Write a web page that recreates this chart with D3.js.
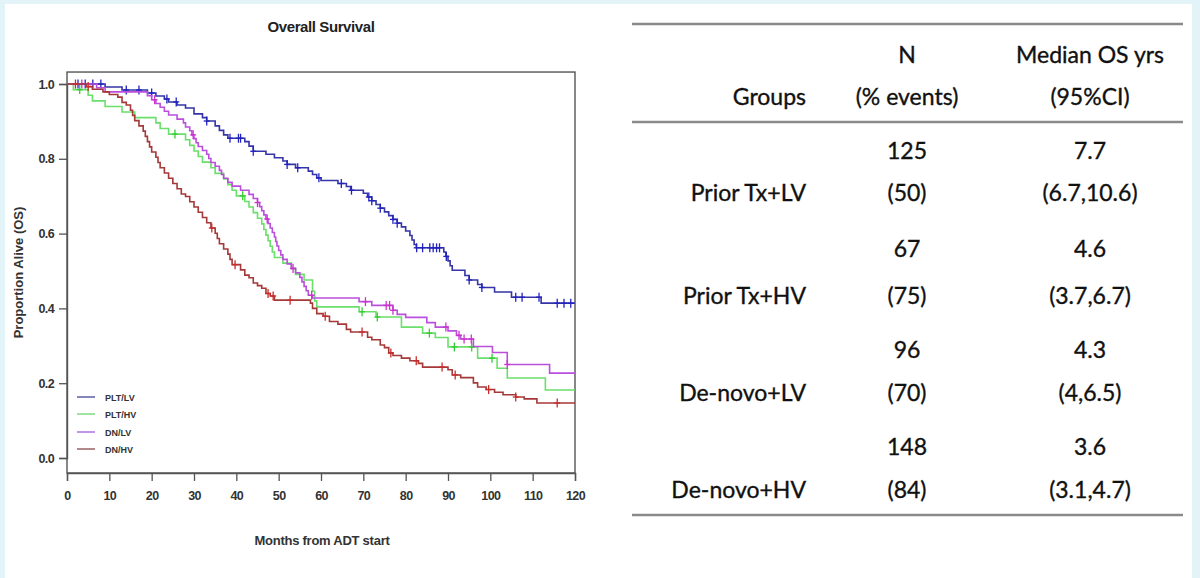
<!DOCTYPE html>
<html><head><meta charset="utf-8">
<script src="https://cdn.jsdelivr.net/npm/d3@7"></script>
<style>body{margin:0;background:#fff;overflow:hidden}</style>
</head><body><svg id="c" width="1200" height="578"></svg>
<script>
// ---------------- DATA ----------------
const chartTitle = "Overall Survival";
const seriesNames = ["PLT/LV", "PLT/HV", "DN/LV", "DN/HV"];
const xTicks = [0,10,20,30,40,50,60,70,80,90,100,110,120];
const yTicks = [0.0,0.2,0.4,0.6,0.8,1.0];

// Kaplan-Meier steps: [month, survival after the step]
const pltLvSteps = [[0,1],[9,0.992],[13,0.984],[19,0.976],[21,0.968],[23,0.960],[24,0.952],[26,0.944],[28,0.936],[30,0.920],[32,0.910],[33,0.901],[35,0.888],[36,0.876],[37,0.864],[38,0.855],[42,0.846],[43,0.834],[44,0.820],[47,0.812],[49,0.803],[51,0.794],[52,0.785],[54,0.776],[57,0.767],[58,0.758],[59,0.749],[60,0.742],[64,0.734],[66,0.726],[67,0.716],[70,0.708],[71,0.698],[72,0.688],[73,0.678],[74,0.668],[75,0.658],[76,0.648],[77,0.638],[78,0.628],[79,0.618],[80,0.607],[81,0.595],[81.5,0.583],[82,0.571],[82.5,0.562],[89,0.551],[89.5,0.539],[90,0.527],[90.5,0.514],[91,0.502],[94,0.488],[95,0.476],[97,0.464],[98,0.456],[101,0.444],[105,0.430],[112,0.414]];
const pltHvSteps = [[0,1],[1.5,0.985],[5,0.970],[6,0.955],[9,0.940],[13,0.925],[16,0.910],[21,0.896],[22,0.881],[24,0.866],[28,0.851],[29,0.836],[30,0.821],[31,0.806],[32,0.791],[34,0.776],[35,0.761],[37,0.746],[38,0.731],[39,0.716],[40,0.701],[42,0.686],[43,0.671],[44,0.656],[45,0.641],[46,0.626],[46.5,0.611],[47,0.596],[47.5,0.581],[48,0.566],[48.5,0.551],[49,0.536],[51,0.521],[53,0.506],[54,0.491],[56,0.476],[58,0.446],[58.5,0.420],[59,0.404],[69,0.391],[73,0.377],[79,0.350],[84,0.334],[87,0.322],[90,0.297],[97,0.267],[101.6,0.240],[104,0.214],[113,0.182]];
const dnLvSteps = [[0,1],[7,0.990],[9,0.979],[19,0.969],[20,0.958],[21,0.948],[22,0.938],[23,0.927],[24,0.917],[26,0.906],[27.5,0.896],[28,0.885],[29,0.875],[29.5,0.864],[30,0.854],[30.5,0.843],[31,0.833],[32,0.822],[33,0.812],[33.5,0.801],[34,0.790],[35,0.780],[36,0.769],[36.5,0.758],[37,0.748],[38,0.737],[39,0.727],[41,0.716],[43,0.705],[44,0.694],[45,0.683],[45.5,0.672],[46,0.661],[46.5,0.650],[47,0.639],[47.5,0.627],[48,0.615],[48.5,0.603],[49,0.591],[49.3,0.579],[49.6,0.567],[50,0.555],[50.5,0.543],[51,0.531],[52,0.519],[53,0.507],[54,0.495],[55,0.483],[55.5,0.471],[56,0.459],[56.5,0.447],[57,0.435],[58,0.428],[69,0.418],[72,0.408],[77,0.395],[78,0.384],[80,0.376],[85,0.362],[87,0.350],[90,0.340],[92,0.328],[93,0.318],[96,0.298],[100.5,0.282],[104,0.250],[114,0.227]];
const dnHvSteps = [[0,1],[4.5,0.993],[6,0.986],[8.5,0.979],[10,0.972],[12,0.965],[13,0.951],[14,0.944],[15,0.930],[15.5,0.916],[16,0.902],[17,0.888],[18,0.874],[18.5,0.860],[19,0.846],[19.5,0.832],[20,0.818],[21,0.804],[21.5,0.790],[22,0.776],[23,0.762],[24,0.748],[25,0.734],[26,0.720],[27,0.706],[28,0.699],[29,0.685],[30,0.671],[31,0.657],[32,0.643],[33,0.629],[34,0.615],[35,0.601],[35.5,0.587],[36,0.573],[37,0.559],[38,0.545],[38.5,0.531],[39,0.517],[41,0.503],[42,0.489],[43,0.482],[44,0.468],[45,0.461],[46,0.454],[47,0.440],[48,0.433],[49,0.422],[57.5,0.414],[58,0.400],[59,0.386],[60.5,0.379],[62,0.365],[64,0.358],[66,0.344],[67,0.337],[71,0.323],[72,0.316],[74,0.302],[75,0.295],[76,0.281],[77,0.274],[79,0.267],[81,0.260],[83,0.253],[84,0.243],[90,0.236],[91,0.222],[93,0.215],[96,0.201],[97,0.190],[99,0.183],[101,0.176],[103,0.169],[106,0.163],[108,0.158],[111,0.147]];

// censoring times (months)
const pltLvCensor = [2.6,4.3,6.1,8,14,17,20,23.6,25.8,33,38.5,40.5,41,44,52,54.5,59.5,64.8,67.2,71.3,72,74,77,78,82.6,84,85.7,86.5,87.3,88,89.6,95,98,106,107.5,111.5,115.8,117.4,119];
const pltHvCensor = [3,25.5,41.5,69.7,73.3,85.6,91.5,95.6,100.4];
const dnLvCensor = [3.5,20.7,29.8,45,47.3,53.4,57.8,70.5,75.4,76.2,77,89.5,92.6,93.8,95.5,104];
const dnHvCensor = [2,5,34.2,39.7,47.5,48.7,52.7,61,69.7,76.5,82.5,88.6,91.7,99.6,106,115.8];

// table
const tableHeader1 = ["", "N", "Median OS yrs"];
const tableHeader2 = ["Groups", "(% events)", "(95%CI)"];
const groups = ["Prior Tx+LV", "Prior Tx+HV", "De-novo+LV", "De-novo+HV"];
const nPatients = ["125", "67", "96", "148"];
const pctEvents = ["(50)", "(75)", "(70)", "(84)"];
const medianOS = ["7.7", "4.6", "4.3", "3.6"];
const medianCI = ["(6.7,10.6)", "(3.7,6.7)", "(4,6.5)", "(3.1,4.7)"];

// ---------------- DRAW ----------------
const svg = d3.select("#c");
svg.append("rect").attr("x",0).attr("y",0).attr("width",1200).attr("height",578).attr("fill","#e2f4f8");
svg.append("rect").attr("x",5).attr("y",4).attr("width",1187).attr("height",574).attr("fill","#ffffff");

const lineColors = ["#3535a8","#6ae06a","#bb4fdd","#a53838"];
const markColors = ["#2222c0","#33cc33","#cc33cc","#cc2a2a"];
const legendColors = ["#6666a8","#88dd88","#b57ae0","#a06a6a"];

const x = d3.scaleLinear().domain([0,120]).range([67,575]);
const y = d3.scaleLinear().domain([0,1]).range([458,84]);
const frameTop = y(1.032), frameBottom = y(-0.04);

const cf = "'Liberation Sans', Arial, sans-serif";

svg.append("text").attr("x",321).attr("y",32).attr("text-anchor","middle")
  .attr("font-family",cf).attr("font-weight","bold").attr("font-size",15).attr("letter-spacing",-0.4).attr("fill","#222")
  .text(chartTitle);

svg.append("rect").attr("x",x(0)).attr("y",frameTop).attr("width",x(120)-x(0)).attr("height",frameBottom-frameTop)
  .attr("fill","none").attr("stroke","#555").attr("stroke-width",1.4);

const xAxis = svg.append("g").attr("transform",`translate(0,${frameBottom})`)
  .call(d3.axisBottom(x).tickValues(xTicks).tickSize(8).tickPadding(10).tickFormat(d3.format("d")));
const yAxis = svg.append("g").attr("transform",`translate(${x(0)},0)`)
  .call(d3.axisLeft(y).tickValues(yTicks).tickSize(8).tickPadding(5).tickFormat(d3.format(".1f")));
[xAxis,yAxis].forEach(a=>{
  a.select(".domain").attr("stroke","#555").attr("stroke-width",1.4);
  a.selectAll(".tick line").attr("stroke","#555").attr("stroke-width",1.3);
  a.selectAll(".tick text").attr("font-family",cf).attr("font-weight","bold").attr("font-size",12.5)
    .attr("letter-spacing",-0.6).attr("fill","#333");
});

svg.append("text").attr("x",322).attr("y",545).attr("text-anchor","middle")
  .attr("font-family",cf).attr("font-weight","bold").attr("font-size",13).attr("letter-spacing",-0.25).attr("fill","#333")
  .text("Months from ADT start");
svg.append("text").attr("transform",`translate(23,${(frameTop+frameBottom)/2}) rotate(-90)`).attr("text-anchor","middle")
  .attr("font-family",cf).attr("font-weight","bold").attr("font-size",13).attr("fill","#333")
  .text("Proportion Alive (OS)");

const allSteps = [pltLvSteps, pltHvSteps, dnLvSteps, dnHvSteps];
const allCensor = [pltLvCensor, pltHvCensor, dnLvCensor, dnHvCensor];
const line = d3.line().x(d=>x(d[0])).y(d=>y(d[1])).curve(d3.curveStepAfter);
const survAt = (steps,t)=>{ let s=1; for(const p of steps){ if(p[0]<=t) s=p[1]; else break;} return s; };

[0,1,2,3].forEach(i=>{
  const steps = allSteps[i];
  const pts = steps.concat([[120, steps[steps.length-1][1]]]);
  svg.append("path").attr("d",line(pts)).attr("fill","none")
    .attr("stroke",lineColors[i]).attr("stroke-width",1.6);
  const g = svg.append("g").attr("stroke",markColors[i]).attr("stroke-width",1.3);
  allCensor[i].forEach(t=>{
    const cx = x(t), cy = y(survAt(steps,t));
    g.append("line").attr("x1",cx).attr("x2",cx).attr("y1",cy-4.5).attr("y2",cy+4.5);
    g.append("line").attr("x1",cx-3).attr("x2",cx+3).attr("y1",cy).attr("y2",cy);
  });
});

const legY = [397,414,432,449];
seriesNames.forEach((n,i)=>{
  svg.append("line").attr("x1",77).attr("x2",95).attr("y1",legY[i]).attr("y2",legY[i])
    .attr("stroke",legendColors[i]).attr("stroke-width",1.6);
  svg.append("text").attr("x",105).attr("y",legY[i]+3.5).attr("font-family",cf).attr("font-weight","bold")
    .attr("font-size",9).attr("fill","#333").text(n);
});

// ---------------- TABLE ----------------
const tf = "Lato, 'Open Sans', sans-serif";
const tfs = 23;
const ruleColor = "#8a8a8a";
[24,122,515].forEach(yy=>{
  svg.append("line").attr("x1",632).attr("x2",1183).attr("y1",yy).attr("y2",yy)
    .attr("stroke",ruleColor).attr("stroke-width",2.4);
});
const colX = [806, 907, 1090];
const colAnchor = ["end","middle","middle"];
function cell(txt, ci, cy){
  svg.append("text").attr("x",colX[ci]).attr("y",cy).attr("dy","0.36em")
    .attr("text-anchor",colAnchor[ci]).attr("font-family",tf).attr("font-size",tfs)
    .attr("fill","#111").attr("stroke","#111").attr("stroke-width",0.35)
    .text(txt);
}
tableHeader1.forEach((t,i)=>{ if(t) cell(t,i,55); });
tableHeader2.forEach((t,i)=>cell(t,i,97));
const row1Y = [151,249,350,447];
const row2Y = [193,296,393,490];
groups.forEach((g,i)=>{
  cell(nPatients[i],1,row1Y[i]);
  cell(medianOS[i],2,row1Y[i]);
  cell(g,0,row2Y[i]);
  cell(pctEvents[i],1,row2Y[i]);
  cell(medianCI[i],2,row2Y[i]);
});
</script>
</body></html>
